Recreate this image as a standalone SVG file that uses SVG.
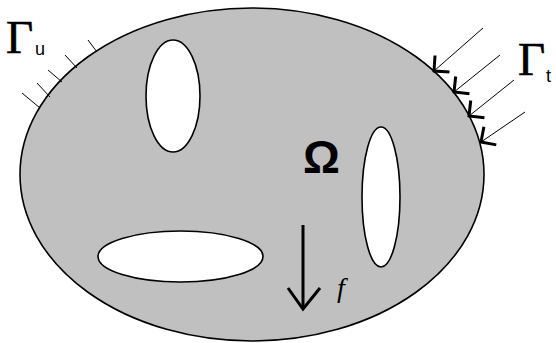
<svg xmlns="http://www.w3.org/2000/svg" width="556" height="343" viewBox="0 0 556 343">
<style>
.body{fill:#c0c0c0;stroke:#000;stroke-width:1.6}
.hole{fill:#fff;stroke:#000;stroke-width:1.6}
.hatch{stroke:#000;stroke-width:1;fill:none}
.load{stroke:#000;stroke-width:1;fill:none;marker-end:url(#ah)}
.gam{font-family:"Liberation Serif",serif;font-size:47px;fill:#000;stroke:#000;stroke-width:0.6}
.sub{font-family:"Liberation Sans",sans-serif;font-size:18px;fill:#000}
</style>
<defs>
<marker id="ah" markerUnits="userSpaceOnUse" viewBox="-14 -12 16 24" markerWidth="16" markerHeight="24" refX="0" refY="0" orient="auto">
<path d="M-11,-11 L0,0 L-11,11" fill="none" stroke="#000" stroke-width="3"/>
</marker>
</defs>
<rect width="556" height="343" fill="#fff"/>
<g id="domain">
<ellipse class="body" cx="252" cy="174.5" rx="232" ry="166.5"/>
</g>
<g id="hole1"><ellipse class="hole" cx="173" cy="96" rx="27" ry="56"/></g>
<g id="hole2"><ellipse class="hole" cx="381" cy="197" rx="19" ry="70"/></g>
<g id="hole3"><ellipse class="hole" cx="180.5" cy="256.5" rx="82.5" ry="25.5"/></g>
<g id="gamma-u">
<text class="gam" x="6" y="53">Γ</text>
<text class="sub" x="35" y="55">u</text>
</g>
<g id="gamma-t">
<text class="gam" x="518" y="75">Γ</text>
<text class="sub" x="546" y="82">t</text>
</g>
<g id="omega">
<text x="303" y="173" font-family="Liberation Sans,sans-serif" font-weight="bold" font-size="46">Ω</text>
</g>
<g id="force">
<line x1="303" y1="225" x2="303" y2="309" stroke="#000" stroke-width="3"/>
<polyline points="288,288 303,309 320,288" fill="none" stroke="#000" stroke-width="3"/>
<text x="337" y="297" font-family="Liberation Serif,serif" font-style="italic" font-size="28">f</text>
</g>
<g id="connectors">
<line class="hatch" x1="22" y1="93" x2="40" y2="108"/>
<line class="hatch" x1="37" y1="83" x2="50" y2="97"/>
<line class="hatch" x1="48" y1="70" x2="62" y2="82"/>
<line class="hatch" x1="65" y1="55" x2="77" y2="68"/>
<line class="hatch" x1="88" y1="40" x2="97" y2="52"/>
<line class="load" x1="483" y1="28" x2="434" y2="71"/>
<line class="load" x1="500" y1="55" x2="454" y2="92"/>
<line class="load" x1="514" y1="80" x2="469" y2="116"/>
<line class="load" x1="525" y1="112" x2="481" y2="142"/>
</g>
</svg>
